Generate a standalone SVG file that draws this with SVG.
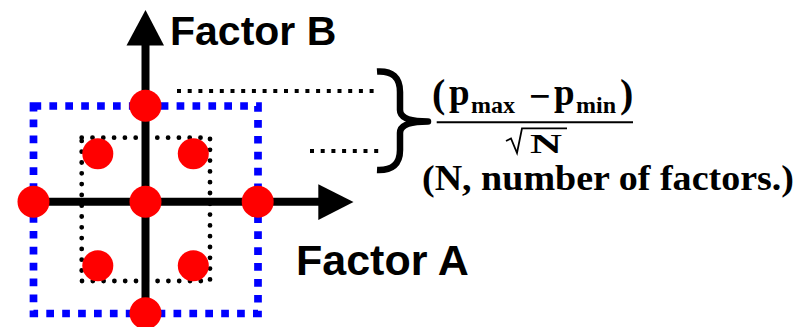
<svg xmlns="http://www.w3.org/2000/svg" width="808" height="327" viewBox="0 0 808 327">
  <defs>
    <style>
      .pt { fill: #FF0000; }
      .axis { stroke: #000; stroke-width: 8; fill: none; }
      .head { fill: #000; }
      .lbl { font-family: "Liberation Sans", Arial, sans-serif; font-weight: bold; fill: #000; }
      .math { font-family: "Liberation Serif", "Times New Roman", serif; font-weight: bold; fill: #000; }
      .leader { stroke: #000; stroke-width: 4; stroke-dasharray: 4 6.7; fill: none; }
    </style>
  </defs>
  <rect width="808" height="327" fill="#fff"/>

  <!-- design boxes -->
  <g id="outer-box">
    <rect x="33.5" y="106" width="224.5" height="207.5" fill="none" stroke="#0000FF" stroke-width="7.7" stroke-dasharray="7.7 8.2"/>
  </g>
  <g id="inner-box">
    <rect x="81.7" y="137.7" width="128.3" height="143.3" fill="none" stroke="#000" stroke-width="4.8" stroke-linecap="round" stroke-dasharray="0 10.8"/>
  </g>

  <!-- connectors: axes and leaders -->
  <g id="connectors">
    <line class="axis" x1="145.5" y1="44" x2="145.5" y2="313"/>
    <polygon class="head" points="145.5,10 126.5,45.5 164,45.5"/>
    <line class="axis" x1="33.5" y1="201.7" x2="320" y2="201.7"/>
    <polygon class="head" points="353.5,202 318.3,184.3 318.3,220"/>
    <line class="leader" x1="177" y1="91" x2="374" y2="91"/>
    <line class="leader" x1="310" y1="151" x2="379" y2="151"/>
  </g>

  <!-- design points -->
  <g id="pt-top"><circle class="pt" cx="145.5" cy="105.7" r="16"/></g>
  <g id="pt-center"><circle class="pt" cx="145.5" cy="201.7" r="16"/></g>
  <g id="pt-left"><circle class="pt" cx="33.5" cy="201.7" r="16"/></g>
  <g id="pt-right"><circle class="pt" cx="257.7" cy="201.7" r="16"/></g>
  <g id="pt-bottom"><circle class="pt" cx="145.5" cy="313.3" r="16"/></g>
  <g id="pt-ul"><circle class="pt" cx="97.8" cy="153.8" r="15.5"/></g>
  <g id="pt-ur"><circle class="pt" cx="193.3" cy="153.8" r="15.5"/></g>
  <g id="pt-ll"><circle class="pt" cx="97.8" cy="265.7" r="15.5"/></g>
  <g id="pt-lr"><circle class="pt" cx="193.3" cy="265.7" r="15.5"/></g>

  <!-- axis labels -->
  <g id="label-b"><text class="lbl" x="170" y="45" font-size="41">Factor B</text></g>
  <g id="label-a"><text class="lbl" x="296" y="275" font-size="43">Factor A</text></g>

  <!-- brace -->
  <g id="brace">
    <path d="M377,71.5 Q400,70 400,92 L400,110 Q400,121.5 428,121.5 Q400,121.5 400,133 L400,150 Q400,171 377,170" fill="none" stroke="#000" stroke-width="6.5" stroke-linejoin="round"/>
  </g>

  <!-- formula -->
  <g id="formula">
    <text class="math" x="432" y="107" font-size="40" font-weight="normal">(</text>
    <text class="math" x="449" y="105" font-size="37">p</text>
    <text class="math" x="471" y="113" font-size="24">max</text>
    <text class="math" x="529" y="109" font-size="38" font-weight="normal">−</text>
    <text class="math" x="554" y="105" font-size="37">p</text>
    <text class="math" x="576" y="113" font-size="24">min</text>
    <text class="math" x="620" y="107" font-size="40" font-weight="normal">)</text>
    <line x1="436.7" y1="122.3" x2="633" y2="122.3" stroke="#000" stroke-width="2"/>
    <path d="M506,141 L511,138.5 L517,153 L522,128.3 L567,128.3" fill="none" stroke="#000" stroke-width="1.8"/>
    <text class="math" x="530" y="152.5" font-size="28" textLength="32" lengthAdjust="spacingAndGlyphs">N</text>
    <text class="math" x="422" y="189.5" font-size="36" textLength="372" lengthAdjust="spacingAndGlyphs">(N, number of factors.)</text>
  </g>
</svg>
